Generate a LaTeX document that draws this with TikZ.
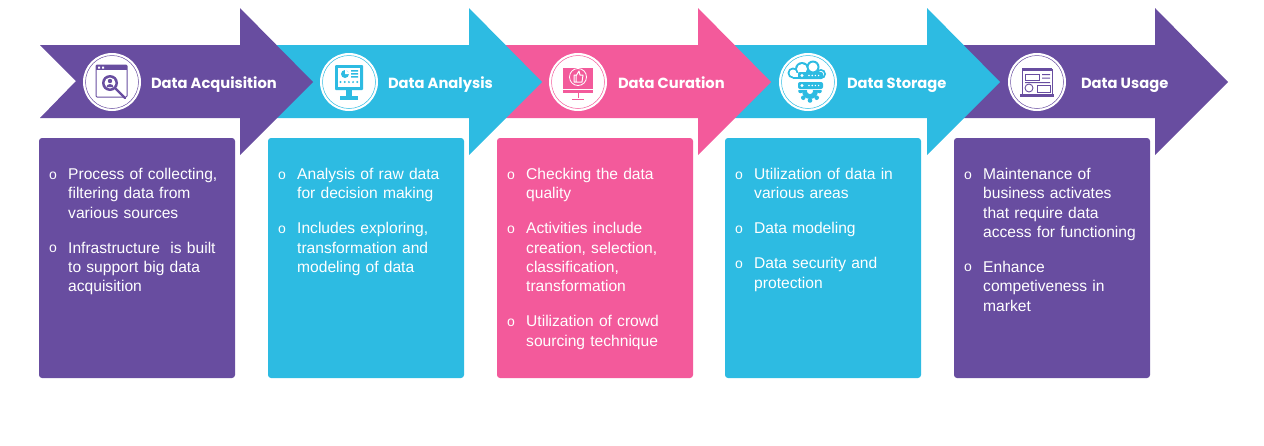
\documentclass[tikz,border=0pt]{standalone}
\usepackage{xcolor}
\usepackage{fontspec}
\setmainfont{Liberation Sans}
\newfontfamily\titlefont{Poppins}
\usepackage{tikz}
\usetikzlibrary{positioning}

\definecolor{dsPurple}{RGB}{104,77,160}
\definecolor{dsCyan}{RGB}{45,187,226}
\definecolor{dsPink}{RGB}{243,90,155}

% banner arrow: colour, left end of the tail
\newcommand{\bannerarrow}[2]{%
  \fill[#1] (#2,45) -- ++(200,0) -- ++(0,-37) -- ++(73,74) -- ++(-73,73)
    -- ++(0,-37) -- ++(-200,0) -- ++(36,-37) -- cycle;
}
\newcommand{\bulletitem}[1]{{\let\\\newline
  \hangindent=19pt\hangafter=1\noindent
  \hbox to 19pt{\raisebox{0.5pt}{\fontsize{14}{14}\selectfont o}\hfil}#1\par}}

\begin{document}
\begin{tikzpicture}[
  x=1pt, y=-1pt,
  node distance=10pt,
  infobox/.style={minimum width=196pt, minimum height=240pt, inner sep=0pt,
    outer sep=0pt, rounded corners=3pt},
  infotext/.style={anchor=north west, inner xsep=10pt, inner ysep=0pt, yshift=-30pt,
    text width=180pt, align=left, text=white,
    font=\fontsize{15.6}{19.3}\selectfont\setlength{\parskip}{15.7pt}},
  badge/.style={circle, fill=white, minimum size=58pt, inner sep=0pt, outer sep=0pt},
  ring/.style={draw=#1, line width=0.5pt},
  heading/.style={text=white, inner sep=0pt, outer sep=0pt, text height=13pt, text depth=1pt,
    font=\titlefont\fontsize{14.7}{18}\selectfont\bfseries}
]
\useasboundingbox (0,0) rectangle (1264,445);

% arrows, last one first so that each tip lies on the next arrow
\bannerarrow{dsPurple}{955}
\bannerarrow{dsCyan}{727}
\bannerarrow{dsPink}{498}
\bannerarrow{dsCyan}{269}
\bannerarrow{dsPurple}{40}

% badges and headings
\node[badge] (acqbadge) at (112,82) {};
\node[heading, right=of acqbadge] (acqtitle) {Data Acquisition};
\node[badge] (anabadge) at (349,82) {};
\node[heading, right=of anabadge] (anatitle) {Data Analysis};
\node[badge] (curbadge) at (578,82) {};
\node[heading, right=11pt of curbadge] (curtitle) {Data Curation};
\node[badge] (stobadge) at (808,82) {};
\node[heading, right=of stobadge] (stotitle) {Data Storage};
\node[badge] (usebadge) at (1037,82) {};
\node[heading, right=15pt of usebadge] (usetitle) {Data Usage};

% rings
\draw[ring=dsPurple] (112,82) circle (26.5);
\draw[ring=dsCyan] (349,82) circle (26.5);
\draw[ring=dsPink] (578,82) circle (26.5);
\draw[ring=dsCyan] (808,82) circle (26.5);
\draw[ring=dsPurple] (1037,82) circle (26.5);

% icon: search window
\begin{scope}[shift={(112,82)}, dsPurple]
  \draw[line width=1pt, rounded corners=1pt] (-16,-17) rectangle (15,15);
  \fill (-16,-17) rectangle (15,-12);
  \fill[white] (-14,-15.5) rectangle (-12,-13.5) (-10,-15.5) rectangle (-8,-13.5);
  \fill (-2,1) circle (8);
  \fill[white] (-2,1) circle (5.5);
  \fill (-2,-1) circle (2.2);
  \fill (-5.5,5) arc (180:360:3.5 and 3) -- cycle;
  \draw[line width=2.4pt, line cap=round] (4,7) -- (13,16);
\end{scope}

% icon: monitor with chart
\begin{scope}[shift={(349,82)}, dsCyan]
  \fill[rounded corners=1pt] (-14,-17) rectangle (14,8);
  \fill[white] (-11,-14) rectangle (11,5);
  \fill (-4,-8) circle (4);
  \fill[white] (-4,-8) -- (-4,-13) -- (1,-8) -- cycle;
  \fill (2,-12) rectangle (9,-10.5) (2,-9) rectangle (9,-7.5) (2,-6) rectangle (9,-4.5);
  \foreach \i in {0,...,4} \fill (-8.5+4.2*\i,0) circle (1.1);
  \fill (-3,8) rectangle (3,15);
  \fill (-9,14) rectangle (9,18);
\end{scope}

% icon: monitor with thumb badge
\begin{scope}[shift={(578,82)}, dsPink]
  \fill (-15,-14) rectangle (15,11);
  \fill[white] (-15,7) rectangle (15,8);
  \draw[white, line width=0.8pt] (0,-5) circle (8.5);
  \draw[white, line width=1pt, line join=round] (-4,-7) rectangle (-2,0)
    (-2,-6) -- (1,-11) -- (2,-7) -- (5,-7) -- (4,0) -- (-2,0);
  \draw[line width=1pt] (0,11) -- (0,16);
  \draw[line width=1pt] (-6,17) -- (6,17);
\end{scope}

% icon: cloud with servers and gear
\begin{scope}[shift={(808,82)}, dsCyan]
  \fill (-15,-9) circle (5.5) (-6,-13) circle (7) (5,-15) circle (6.5) (13,-8) circle (5);
  \fill (-15,-9) rectangle (13,-3);
  \fill[white] (-15,-9) circle (3.5) (-6,-13) circle (5) (5,-15) circle (4.5) (13,-8) circle (3);
  \fill[white] (-15,-9) rectangle (13,-5);
  \fill (2,9) circle (8);
  \foreach \a in {0,45,90,135,180} \fill[shift={(2,9)}] (\a:9.5) circle (2.3);
  \fill[white] (2,9) circle (3);
  \fill[white] (-12,-1) rectangle (17,7.5);
  \foreach \y in {-10,0} {
    \fill[rounded corners=2pt] (-10,\y) rectangle (15,\y+7);
    \fill[white] (-6,\y+3.5) circle (1.6);
    \foreach \i in {0,...,3} \fill[white] (1+3.2*\i,\y+3.5) circle (0.8);
  }
\end{scope}

% icon: dashboard
\begin{scope}[shift={(1037,82)}, dsPurple]
  \draw[line width=1pt] (-15,-13) rectangle (15,12);
  \fill (-15,-14) rectangle (15,-11);
  \fill (-17,12) rectangle (17,15);
  \draw[line width=0.8pt] (-12,-8) rectangle (2,-2);
  \fill (5,-8) rectangle (13,-6.8) (5,-4.5) rectangle (13,-3.3) (-12,0) rectangle (13,1.2);
  \draw[line width=0.9pt] (-8,6) circle (4);
  \draw[line width=0.8pt] (0,3) rectangle (13,10);
\end{scope}

% text boxes
\node[infobox, fill=dsPurple, anchor=north west] (acqbox) at (39,138) {};
\node[infobox, fill=dsCyan, right=33pt of acqbox] (anabox) {};
\node[infobox, fill=dsPink, right=33pt of anabox] (curbox) {};
\node[infobox, fill=dsCyan, right=32pt of curbox] (stobox) {};
\node[infobox, fill=dsPurple, right=33pt of stobox] (usebox) {};

\node[infotext] (acqtext) at (acqbox.north west) {%
  \bulletitem{Process of collecting,\\filtering data from\\various sources}
  \bulletitem{Infrastructure\ \ is built\\to support big data\\acquisition}};
\node[infotext] (anatext) at (anabox.north west) {%
  \bulletitem{Analysis of raw data\\for decision making}
  \bulletitem{Includes exploring,\\transformation and\\modeling of data}};
\node[infotext] (curtext) at (curbox.north west) {%
  \bulletitem{Checking the data\\quality}
  \bulletitem{Activities include\\creation, selection,\\classification,\\transformation}
  \bulletitem{Utilization of crowd\\sourcing technique}};
\node[infotext] (stotext) at (stobox.north west) {%
  \bulletitem{Utilization of data in\\various areas}
  \bulletitem{Data modeling}
  \bulletitem{Data security and\\protection}};
\node[infotext] (usetext) at (usebox.north west) {%
  \bulletitem{Maintenance of\\business activates\\that require data\\access for functioning}
  \bulletitem{Enhance\\competiveness in\\market}};
\end{tikzpicture}
\end{document}
